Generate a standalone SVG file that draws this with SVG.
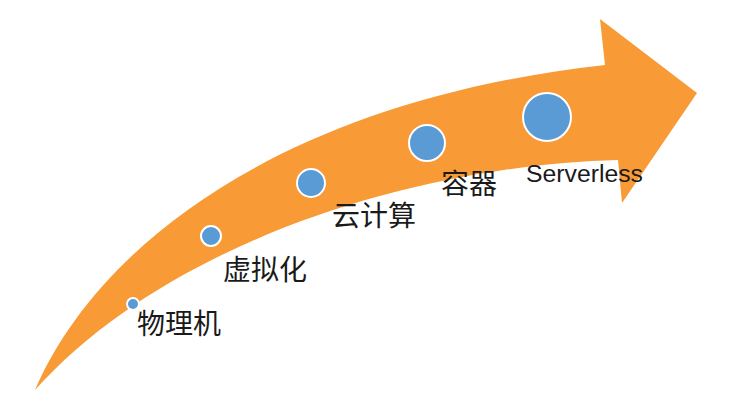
<svg xmlns="http://www.w3.org/2000/svg" width="754" height="415" viewBox="0 0 754 415">
<style>
.dot{fill:#5B9BD5;stroke:#FFFFFF;stroke-width:2}
.cjk{font-family:"Liberation Sans","Noto Sans CJK SC",sans-serif;font-size:28px;fill:#1A1A1A}
.lat{font-family:"Liberation Sans",Arial,sans-serif;font-size:23px;fill:#1A1A1A}
</style>
<rect width="754" height="415" fill="#FFFFFF"/>
<g id="arrow">
<path d="M35,390 C100,240 290,100 605,65 L600,19 L697,93 L622,203 L618,160 C420,165 170,240 35,390 Z" fill="#F89A36"/>
</g>
<g id="node-physical">
<circle class="dot" cx="133" cy="304" r="6"/>
<text class="cjk" x="137" y="334">物理机</text>
</g>
<g id="node-virtual">
<circle class="dot" cx="211" cy="236" r="10"/>
<text class="cjk" x="223" y="280">虚拟化</text>
</g>
<g id="node-cloud">
<circle class="dot" cx="311" cy="183" r="14"/>
<text class="cjk" x="332" y="226">云计算</text>
</g>
<g id="node-container">
<circle class="dot" cx="427" cy="143" r="18"/>
<text class="cjk" x="441" y="194">容器</text>
</g>
<g id="node-serverless">
<circle class="dot" cx="547" cy="117" r="24"/>
<text class="lat" x="526" y="182" textLength="117" lengthAdjust="spacingAndGlyphs">Serverless</text>
</g>
</svg>
